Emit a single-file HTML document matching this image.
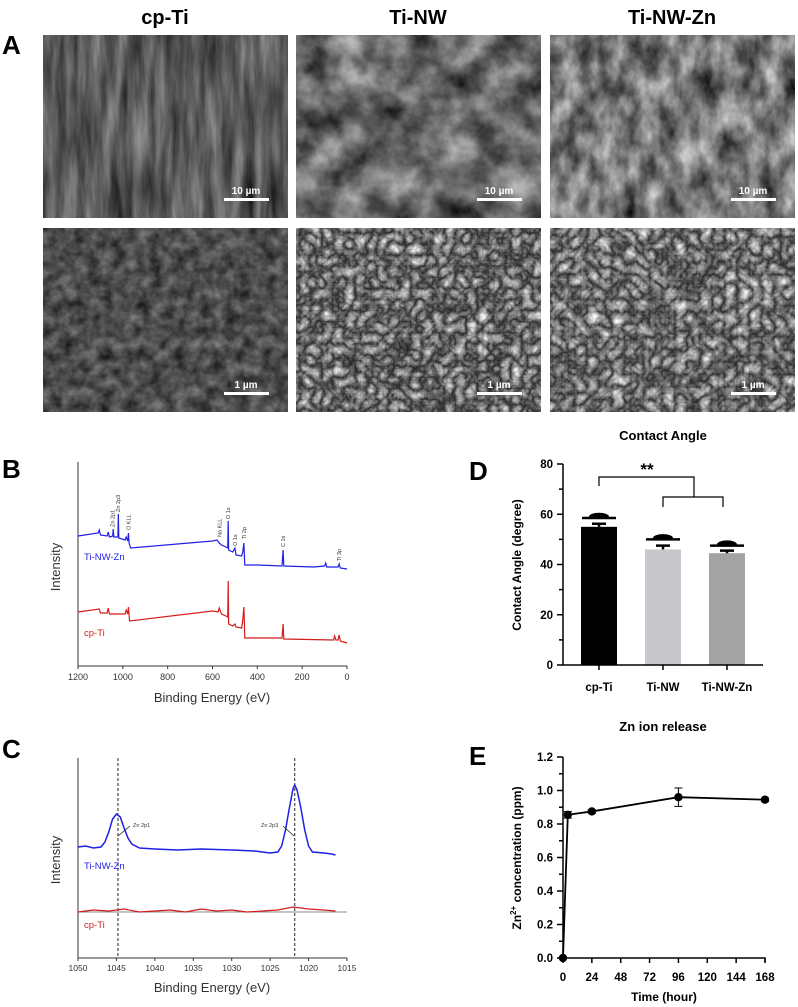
<!DOCTYPE html>
<html><head><meta charset="utf-8"><style>
html,body{margin:0;padding:0;background:#fff}
svg{display:block;font-family:"Liberation Sans",Arial,sans-serif}
filter{color-interpolation-filters:sRGB}
</style></head><body>
<svg id="fig" width="798" height="1007" viewBox="0 0 798 1007">
<defs>
<filter id="semA" x="0" y="0" width="1" height="1" color-interpolation-filters="sRGB"><feTurbulence type="fractalNoise" baseFrequency="0.09 0.012" numOctaves="4" seed="3"/><feColorMatrix type="matrix" values="0.6 0 0 0 0.05 0.6 0 0 0 0.05 0.6 0 0 0 0.05 0 0 0 0 1"/></filter>
<filter id="semB" x="0" y="0" width="1" height="1" color-interpolation-filters="sRGB"><feTurbulence type="fractalNoise" baseFrequency="0.03" numOctaves="4" seed="7"/><feColorMatrix type="matrix" values="0.9 0 0 0 -0.04 0.9 0 0 0 -0.04 0.9 0 0 0 -0.04 0 0 0 0 1"/></filter>
<filter id="semC" x="0" y="0" width="1" height="1" color-interpolation-filters="sRGB"><feTurbulence type="fractalNoise" baseFrequency="0.05 0.03" numOctaves="4" seed="11"/><feColorMatrix type="matrix" values="1.0 0 0 0 -0.03 1.0 0 0 0 -0.03 1.0 0 0 0 -0.03 0 0 0 0 1"/></filter>
<filter id="semD" x="0" y="0" width="1" height="1" color-interpolation-filters="sRGB"><feTurbulence type="fractalNoise" baseFrequency="0.08" numOctaves="3" seed="5"/><feColorMatrix type="matrix" values="0.5 0 0 0 0.05 0.5 0 0 0 0.05 0.5 0 0 0 0.05 0 0 0 0 1"/></filter>
<filter id="semE" x="0" y="0" width="1" height="1" color-interpolation-filters="sRGB"><feTurbulence type="turbulence" baseFrequency="0.09" numOctaves="3" seed="2"/><feColorMatrix type="matrix" values="1.0 0 0 0 0.12 1.0 0 0 0 0.12 1.0 0 0 0 0.12 0 0 0 0 1"/></filter>
<filter id="semF" x="0" y="0" width="1" height="1" color-interpolation-filters="sRGB"><feTurbulence type="turbulence" baseFrequency="0.08" numOctaves="3" seed="9"/><feColorMatrix type="matrix" values="1.05 0 0 0 0.13 1.05 0 0 0 0.13 1.05 0 0 0 0.13 0 0 0 0 1"/></filter>
</defs>

<!-- Panel A -->
<g>
<text x="165" y="24" font-size="20" font-weight="bold" text-anchor="middle">cp-Ti</text>
<text x="418" y="24" font-size="20" font-weight="bold" text-anchor="middle">Ti-NW</text>
<text x="672" y="24" font-size="20" font-weight="bold" text-anchor="middle">Ti-NW-Zn</text>
<text x="2" y="54" font-size="26" font-weight="bold">A</text>
<rect x="43" y="35" width="245" height="183" filter="url(#semA)"/>
<rect x="296" y="35" width="245" height="183" filter="url(#semB)"/>
<rect x="550" y="35" width="245" height="183" filter="url(#semC)"/>
<rect x="43" y="228" width="245" height="184" filter="url(#semD)"/>
<rect x="296" y="228" width="245" height="184" filter="url(#semE)"/>
<rect x="550" y="228" width="245" height="184" filter="url(#semF)"/>
<g fill="#fff" font-size="10" font-weight="bold" text-anchor="middle">
<rect x="224" y="198" width="45" height="3"/><text x="246" y="194">10 µm</text>
<rect x="477" y="198" width="45" height="3"/><text x="499" y="194">10 µm</text>
<rect x="731" y="198" width="45" height="3"/><text x="753" y="194">10 µm</text>
<rect x="224" y="392" width="45" height="3"/><text x="246" y="388">1 µm</text>
<rect x="477" y="392" width="45" height="3"/><text x="499" y="388">1 µm</text>
<rect x="731" y="392" width="45" height="3"/><text x="753" y="388">1 µm</text>
</g>
</g>

<g id="gB"></g>
<g id="gC"></g>
<g id="gD"></g>
<g id="gE"></g>
</svg>
<script>
// ---- Panel B data (binding energy eV, intensity a.u.)
const bBlueE=[1200,1110,1105,1100,1070,1065,1060,1045,1043,1040,1022,1020,1018,990,985,978,975,972,965,600,580,570,560,540,532,530,528,510,500,495,470,465,460,456,400,290,285,282,150,100,95,90,40,35,30,0];
const bBlueI=[65,66.5,68,65.5,65,67,64.5,65,68.5,64.5,64.5,76,64,63,64.5,62.5,66.5,61.5,59,62.5,63,61.5,60.5,59.5,59,72.5,58,57,59,55.5,55,57,61.5,50.5,50.5,50,58,50,49.5,50,51.5,49.5,49.5,51,49,48.5];
const bRedE=[1200,1105,1100,1070,1065,1060,990,985,978,975,970,600,575,570,560,540,532,530,528,510,500,495,470,465,460,456,290,285,282,60,55,50,40,35,30,0];
const bRedI=[27,28.5,26.5,26.5,29,26,26,28,26,29.5,22.5,27.5,27,29,26,25,24.5,42.5,21,20,21,19.5,19,23,29.5,14,14,21,13.5,13,15,13,13,15.5,12.5,11.5];
const bTicks=[1200,1000,800,600,400,200,0];
// ---- Panel C data
const cBlueE=[1050,1049,1048,1047,1046.5,1046,1045.5,1045,1044.5,1044,1043.5,1043,1042,1040,1037,1034,1030,1027,1025,1024,1023.5,1023,1022.5,1022,1021.8,1021.5,1021,1020.5,1020,1019.5,1018,1017,1016.5];
const cBlueI=[55.5,56,55,55.5,58,63,69.5,72,70.5,65,60,57,55,54.5,54,54.5,54,53.5,52.5,53,56,64,75,85,86.5,84,75,64,56,53,52.5,52,51.5];
const cRedE=[1050,1048,1046,1044,1042,1040,1038,1036,1034,1032,1030,1028,1026,1024,1022,1020,1018,1016.5];
const cRedI=[23,24,23.5,24.5,23,23.5,24,23,24.5,23.5,24,23,23.5,24,25.5,24.5,24,23.5];
const cTicks=[1050,1045,1040,1035,1030,1025,1020,1015];
// ---- Panel D data
const dCats=["cp-Ti","Ti-NW","Ti-NW-Zn"];
const dMeans=[55,46,44.5];
const dErr=[1.2,1.5,1.0];
const dDrop=[59,50.5,48];
const dTicks=[0,20,40,60,80];
// ---- Panel E data
const eTime=[0,4,24,96,168];
const eConc=[0,0.855,0.875,0.96,0.945];
const eErr=[0,0.02,0.01,0.055,0.01];
const eXTicks=[0,24,48,72,96,120,144,168];
const eYTicks=[0,0.2,0.4,0.6,0.8,1.0,1.2];

const NS="http://www.w3.org/2000/svg";
function mk(p,tag,a,txt){const e=document.createElementNS(NS,tag);for(const k in a)e.setAttribute(k,a[k]);if(txt!==undefined)e.textContent=txt;p.appendChild(e);return e;}
function lin(d0,d1,r0,r1){return v=>r0+(v-d0)/(d1-d0)*(r1-r0);}

// ===== Panel B
(function(){
const g=document.getElementById('gB');
const x=lin(1200,0,78,347), y=lin(0,100,666,466);
let t=mk(g,'text',{x:2,y:478,'font-size':26,'font-weight':'bold'},'B');


let ax=mk(g,'path',{d:`M78,462V666H347`,fill:'none',stroke:'#333','stroke-width':1});


bTicks.forEach(v=>{
 mk(g,'line',{x1:x(v),x2:x(v),y1:666,y2:669,stroke:'#333'});
 const tl=mk(g,'text',{x:x(v),y:680,'font-size':9,'text-anchor':'middle',fill:'#333'},v);
 
 
});
t=mk(g,'text',{x:212,y:702,'font-size':13,'text-anchor':'middle',fill:'#333'},'Binding Energy (eV)');


t=mk(g,'text',{x:0,y:0,'font-size':13,'text-anchor':'middle',fill:'#333',transform:'translate(60,567) rotate(-90)'},'Intensity');


let l=mk(g,'polyline',{points:bBlueE.map((e,i)=>x(e)+','+y(bBlueI[i])).join(' '),fill:'none',stroke:'#1f1fe6','stroke-width':1.2});


l=mk(g,'polyline',{points:bRedE.map((e,i)=>x(e)+','+y(bRedI[i])).join(' '),fill:'none',stroke:'#d61c1c','stroke-width':1.2});


t=mk(g,'text',{x:84,y:560,'font-size':9.5,fill:'#1f1fe6'},'Ti-NW-Zn');


t=mk(g,'text',{x:84,y:636,'font-size':9.5,fill:'#d61c1c'},'cp-Ti');


[['Zn 2p1',1045,527],['Zn 2p3',1022,512],['O KLL',975,530],['Na KLL',568,537],['O 1s',530,519],['O 1s',500,546],['Ti 2p',460,539],['C 1s',285,547],['Ti 3p',35,561]].forEach(a=>{
 const tt=mk(g,'text',{x:0,y:0,'font-size':5.5,fill:'#333',transform:`translate(${x(a[1])+2},${a[2]}) rotate(-90)`},a[0]);
 
 
});
})();

// ===== Panel C
(function(){
const g=document.getElementById('gC');
const x=lin(1050,1015,78,347), y=lin(0,100,958,758);
let t=mk(g,'text',{x:2,y:758,'font-size':26,'font-weight':'bold'},'C');


let ax=mk(g,'path',{d:`M78,758V958H347`,fill:'none',stroke:'#333','stroke-width':1});


mk(g,'line',{x1:78,x2:347,y1:912,y2:912,stroke:'#888','stroke-width':1});
cTicks.forEach(v=>{
 mk(g,'line',{x1:x(v),x2:x(v),y1:958,y2:961,stroke:'#333'});
 const tl=mk(g,'text',{x:x(v),y:971,'font-size':8.5,'text-anchor':'middle',fill:'#333'},v);
 
 
});
[1044.8,1021.8].forEach(v=>{
 const dl=mk(g,'line',{x1:x(v),x2:x(v),y1:758,y2:958,stroke:'#222','stroke-dasharray':'3,2'});
 
 
});
t=mk(g,'text',{x:212,y:992,'font-size':13,'text-anchor':'middle',fill:'#333'},'Binding Energy (eV)');


t=mk(g,'text',{x:0,y:0,'font-size':13,'text-anchor':'middle',fill:'#333',transform:'translate(60,860) rotate(-90)'},'Intensity');


let l=mk(g,'polyline',{points:cBlueE.map((e,i)=>x(e)+','+y(cBlueI[i])).join(' '),fill:'none',stroke:'#1f1fe6','stroke-width':1.5});


l=mk(g,'polyline',{points:cRedE.map((e,i)=>x(e)+','+y(cRedI[i])).join(' '),fill:'none',stroke:'#d61c1c','stroke-width':1.2});


t=mk(g,'text',{x:84,y:869,'font-size':9.5,fill:'#1f1fe6'},'Ti-NW-Zn');


t=mk(g,'text',{x:84,y:928,'font-size':9.5,fill:'#d61c1c'},'cp-Ti');


t=mk(g,'text',{x:133,y:827,'font-size':5.5,fill:'#333'},'Zn 2p1');


t=mk(g,'text',{x:261,y:827,'font-size':5.5,fill:'#333'},'Zn 2p3');


mk(g,'line',{x1:130,x2:118,y1:826,y2:836,stroke:'#222','stroke-width':0.8});
mk(g,'line',{x1:283,x2:294,y1:826,y2:836,stroke:'#222','stroke-width':0.8});
})();

// ===== Panel D
(function(){
const g=document.getElementById('gD');
const y=lin(0,80,665,464);
const cx=[599,663,727], bw=36;
let t=mk(g,'text',{x:663,y:440,'font-size':13,'font-weight':'bold','text-anchor':'middle'},'Contact Angle');


t=mk(g,'text',{x:469,y:480,'font-size':26,'font-weight':'bold'},'D');


const cols=['#000','#c8c8cc','#a3a3a3'];
dMeans.forEach((m,i)=>{
 const b=mk(g,'rect',{x:cx[i]-bw/2,y:y(m),width:bw,height:665-y(m),fill:cols[i]});
 
 
 const e=mk(g,'path',{d:`M${cx[i]},${y(m)}V${y(m+dErr[i])}M${cx[i]-7},${y(m+dErr[i])}H${cx[i]+7}`,stroke:'#000','stroke-width':2.5,fill:'none'});
 
 
 const yd=y(dDrop[i]);
 const d=mk(g,'path',{d:`M${cx[i]-17},${yd}h34v2.5h-34zM${cx[i]-10},${yd}a10,4 0 0 1 20,0z`,fill:'#000'});
 
 
 const c=mk(g,'text',{x:cx[i],y:691,'font-size':11.5,'font-weight':'bold','text-anchor':'middle'},dCats[i]);
 
 
 mk(g,'line',{x1:cx[i],x2:cx[i],y1:665,y2:670,stroke:'#000','stroke-width':1.5});
});
let ax=mk(g,'path',{d:'M563,464V665H763',fill:'none',stroke:'#000','stroke-width':1.5});


for(let v=0;v<=80;v+=10){mk(g,'line',{x1:v%20?559:557,x2:563,y1:y(v),y2:y(v),stroke:'#000','stroke-width':1.5});}
dTicks.forEach(v=>{
 const tl=mk(g,'text',{x:553,y:y(v)+4,'font-size':11.5,'font-weight':'bold','text-anchor':'end'},v);
 
 
});
t=mk(g,'text',{x:0,y:0,'font-size':12,'font-weight':'bold','text-anchor':'middle',transform:'translate(521,565) rotate(-90)'},'Contact Angle (degree)');


const br=mk(g,'path',{d:'M599,486V477H694V497M663,507V497H723V507',fill:'none',stroke:'#000','stroke-width':1.2});


t=mk(g,'text',{x:647,y:475,'font-size':17,'font-weight':'bold','text-anchor':'middle'},'**');


})();

// ===== Panel E
(function(){
const g=document.getElementById('gE');
const x=lin(0,168,563,765), y=lin(0,1.2,958,757);
let t=mk(g,'text',{x:663,y:731,'font-size':13,'font-weight':'bold','text-anchor':'middle'},'Zn ion release');


t=mk(g,'text',{x:469,y:765,'font-size':26,'font-weight':'bold'},'E');


let ax=mk(g,'path',{d:'M563,757V958H765V962',fill:'none',stroke:'#000','stroke-width':1.5});


for(let v=0;v<=1.2001;v+=0.1){mk(g,'line',{x1:Math.round(v*10)%2?559:557,x2:563,y1:y(v),y2:y(v),stroke:'#000','stroke-width':1.5});}
eYTicks.forEach(v=>{
 const tl=mk(g,'text',{x:553,y:y(v)+4,'font-size':11.5,'font-weight':'bold','text-anchor':'end'},v.toFixed(1));
 
 
});
eXTicks.forEach(v=>{
 mk(g,'line',{x1:x(v),x2:x(v),y1:958,y2:963,stroke:'#000','stroke-width':1.5});
 const tl=mk(g,'text',{x:x(v),y:981,'font-size':11.5,'font-weight':'bold','text-anchor':'middle'},v);
 
 
});
t=mk(g,'text',{x:664,y:1001,'font-size':12,'font-weight':'bold','text-anchor':'middle'},'Time (hour)');


t=mk(g,'text',{x:0,y:0,'font-size':12,'font-weight':'bold','text-anchor':'middle',transform:'translate(521,858) rotate(-90)'});


t.innerHTML='Zn<tspan dy="-5" font-size="8">2+</tspan><tspan dy="5"> concentration (ppm)</tspan>';
const ln=mk(g,'polyline',{points:eTime.map((v,i)=>x(v)+','+y(eConc[i])).join(' '),fill:'none',stroke:'#000','stroke-width':1.8});


eTime.forEach((v,i)=>{
 if(eErr[i]>0){
  const e=mk(g,'path',{d:`M${x(v)},${y(eConc[i]-eErr[i])}V${y(eConc[i]+eErr[i])}M${x(v)-4},${y(eConc[i]-eErr[i])}h8M${x(v)-4},${y(eConc[i]+eErr[i])}h8`,stroke:'#000','stroke-width':1,fill:'none'});
  
  
 }
 const p=mk(g,'circle',{cx:x(v),cy:y(eConc[i]),r:4.2,fill:'#000'});
 
 
});
})();
</script>
</body></html>
